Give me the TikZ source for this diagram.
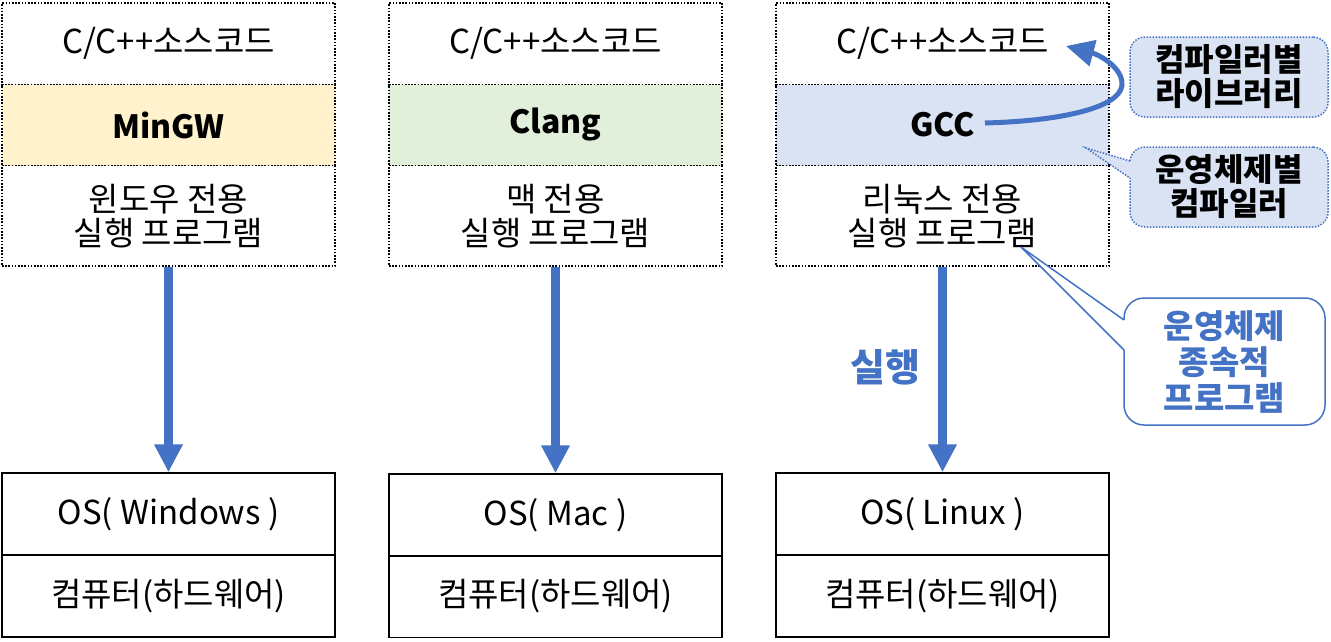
\documentclass[tikz,border=0pt]{standalone}
\usepackage{fontspec}
\setmainfont{Noto Sans CJK KR}
\usetikzlibrary{arrows.meta,calc}
\definecolor{mblue}{HTML}{4472C4}
\definecolor{forange}{HTML}{FFF2CC}
\definecolor{fgreen}{HTML}{E2EFDA}
\definecolor{fblue}{HTML}{DAE3F3}
\begin{document}
\begin{tikzpicture}[x=1pt,y=-1pt,
  every node/.style={font=\fontsize{33}{34}\selectfont},
  cell/.style={draw=black, line width=1.6pt, dash pattern=on 1.6pt off 1.6pt, minimum width=333pt, inner sep=0pt, align=center},
  srcrow/.style={cell, minimum height=81.5pt},
  comprow/.style={cell, minimum height=81pt, font=\fontsize{32}{34}\selectfont\bfseries},
  execrow/.style={cell, minimum height=100.5pt},
  hwrow/.style={draw=black, line width=1.5pt, minimum width=333pt, minimum height=82pt, inner sep=0pt, align=center},
  bigarrow/.style={draw=mblue, line width=9pt, -{Triangle[width=27pt,length=28pt]}},
  notebox/.style={draw=mblue, line width=1.5pt, dash pattern=on 1.5pt off 1.5pt, fill=fblue, rounded corners=15pt, minimum width=198pt, minimum height=80pt, inner sep=0pt, align=center, font=\fontsize{32}{34}\selectfont\bfseries},
  notedot/.style={draw=mblue, line width=1.5pt, dash pattern=on 1.5pt off 1.5pt},
  bluebox/.style={draw=mblue, line width=1.5pt, fill=white, rounded corners=20pt, minimum width=201pt, minimum height=127pt, inner sep=0pt, align=center, text=mblue, font=\fontsize{33}{36}\selectfont\bfseries}
]
\useasboundingbox (0,0) rectangle (1331,641);

% column 1
\node[srcrow] (src1) at (168.5,43.75) {C/C++소스코드};
\node[comprow, fill=forange] (cmp1) at (168.5,125) {MinGW};
\node[execrow] (exe1) at (168.5,215.75) {윈도우 전용\\실행 프로그램};
\node[hwrow] (os1) at (168.5,514) {OS( Windows )};
\node[hwrow] (hw1) at (168.5,596) {컴퓨터(하드웨어)};
% column 2
\node[srcrow] (src2) at (555.5,43.75) {C/C++소스코드};
\node[comprow, fill=fgreen] (cmp2) at (555.5,125) {Clang};
\node[execrow] (exe2) at (555.5,215.75) {맥 전용\\실행 프로그램};
\node[hwrow] (os2) at (555.5,515) {OS( Mac )};
\node[hwrow] (hw2) at (555.5,596.5) {컴퓨터(하드웨어)};
% column 3
\node[srcrow] (src3) at (942.5,43.75) {C/C++소스코드};
\node[comprow, fill=fblue] (cmp3) at (942.5,125) {GCC};
\node[execrow] (exe3) at (942.5,215.75) {리눅스 전용\\실행 프로그램};
\node[hwrow] (os3) at (942.5,514) {OS( Linux )};
\node[hwrow] (hw3) at (942.5,596) {컴퓨터(하드웨어)};

% execution arrows
\draw[bigarrow] (exe1.south) -- (os1.north);
\draw[bigarrow] (exe2.south) -- (os2.north);
\draw[bigarrow] (exe3.south) -- (os3.north);
\node[text=mblue, font=\fontsize{38}{40}\selectfont\bfseries] (run) at (885,367) {실행};

% curved arrow from GCC to source
\coordinate (cstart) at (985,123);
\coordinate (cmid) at (1122,85);
\coordinate (cend) at (1066,46);
\draw[draw=mblue, line width=5pt, -{Triangle[width=26pt,length=28pt]}]
  (cstart) .. controls (1060,121) and (1120,108) .. (cmid)
           .. controls (1123,68) and (1100,55) .. (cend);

% callout 1
\node[notebox] (lib) at (1229,77) {컴파일러별\\라이브러리};
% callout 2 with pointer
\node[notebox] (osc) at (1229,187) {운영체제별\\컴파일러};
\coordinate (p2tip) at (1086,148);
\coordinate (p2a) at (1130,161);
\coordinate (p2b) at (1130,178);
\fill[fblue] (p2tip) -- (p2a) -- ($(p2a)+(4,0)$) -- ($(p2b)+(4,0)$) -- (p2b) -- cycle;
\draw[notedot] (p2a) -- (p2tip) -- (p2b);

% callout 3 with pointer
\node[bluebox] (dep) at (1224.5,361.5) {운영체제\\종속적\\프로그램};
\coordinate (p3tip) at (1021,247);
\coordinate (p3a) at (1124,320);
\coordinate (p3b) at (1124,350);
\fill[white] (p3tip) -- (p3a) -- ($(p3a)+(4,0)$) -- ($(p3b)+(4,0)$) -- (p3b) -- cycle;
\draw[draw=mblue, line width=1.5pt] (p3a) -- (p3tip) -- (p3b);
\end{tikzpicture}
\end{document}
